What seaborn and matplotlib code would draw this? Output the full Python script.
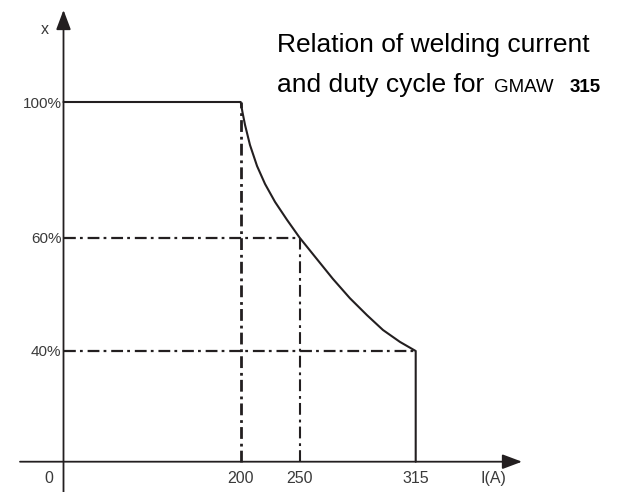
import numpy as np
import matplotlib
matplotlib.use('Agg')
import matplotlib.pyplot as plt
import seaborn as sns

# --- values ---
current_ticks = [0, 200, 250, 315]          # I (A)
duty_ticks = [0, 40, 60, 100]               # duty cycle x (%)
duty_labels = ['40%', '60%', '100%']

# rated curve: plateau, falling curve, drop at 315 A
curve_current = [0, 200, 201.5, 203.7, 207.9, 213.9, 220.7, 229.2, 239.4, 250,
                 258.7, 268.7, 278.2, 287.8, 296.7, 306.2, 315, 315]
curve_duty = [100, 100, 97.0, 93.2, 87.3, 81.1, 75.8, 70.5, 65.2, 60,
              56.6, 52.7, 49.3, 46.3, 43.7, 41.6, 40, 0]

# dash-dot guide lines
guide_v_current = [200, 250]
guide_v_top = [100, 60]
guide_h_duty = [60, 40]
guide_h_end = [250, 315]

# the drawing is not to scale: each axis is piecewise linear between the ticks
x_pix = [63.5, 240.7, 299.5, 415.7]
y_pix = [30.3, 141.0, 254.5, 390.0]

ink = '#231f20'
label_col = '#3a3a3a'


def piecewise(src, dst):
    src = np.asarray(src, float)
    dst = np.asarray(dst, float)

    def conv(v, a, b):
        v = np.asarray(v, float)
        out = np.interp(v, a, b)
        lo = (b[1] - b[0]) / (a[1] - a[0])
        hi = (b[-1] - b[-2]) / (a[-1] - a[-2])
        out = np.where(v < a[0], b[0] + (v - a[0]) * lo, out)
        out = np.where(v > a[-1], b[-1] + (v - a[-1]) * hi, out)
        return out

    return (lambda v: conv(v, src, dst)), (lambda v: conv(v, dst, src))


sns.set_style('white')
plt.rcParams['font.family'] = ['Liberation Sans', 'DejaVu Sans']
plt.rcParams['lines.scale_dashes'] = False

fig = plt.figure(figsize=(6.18, 4.92), dpi=100)
ax = fig.add_axes([0, 0, 1, 1])
ax.patch.set_alpha(0)

fx, ix = piecewise(current_ticks, x_pix)
fy, iy = piecewise(duty_ticks, y_pix)
ax.set_xscale('function', functions=(fx, ix))
ax.set_yscale('function', functions=(fy, iy))

# main curve
sns.lineplot(x=curve_current, y=curve_duty, sort=False, estimator=None,
             color=ink, lw=1.5, ax=ax)

# guide lines
dashdot = (0, (8.5, 3, 2, 3.5))
ax.vlines(guide_v_current[0], 0, guide_v_top[0], colors=ink, lw=2.0, linestyles=[dashdot])
ax.vlines(guide_v_current[1], 0, guide_v_top[1], colors=ink, lw=1.5, linestyles=[dashdot])
ax.hlines(guide_h_duty, 0, guide_h_end, colors=ink, lw=1.6, linestyles=[dashdot])

ax.set_xlim(float(ix(0)), float(ix(618)))
ax.set_ylim(float(iy(0)), float(iy(492)))

# tick labels sit on the axes through the origin
ax.spines['left'].set_position(('data', 0))
ax.spines['bottom'].set_position(('data', 0))
for s in ax.spines.values():
    s.set_color('none')
ax.set_xticks(current_ticks[1:])
ax.set_xticklabels([str(c) for c in current_ticks[1:]])
ax.set_yticks(duty_ticks[1:])
ax.set_yticklabels(duty_labels)
ax.minorticks_off()
ax.tick_params(axis='x', length=0, pad=6.5, labelsize=11.5, labelcolor=label_col)
ax.tick_params(axis='y', length=0, pad=1.5, labelsize=11, labelcolor=label_col)
ax.grid(False)

# origin label
ax.annotate('0', xy=(0, 0), xytext=(-10.5, -12), textcoords='offset points',
            ha='center', va='center', fontsize=11.5, color=label_col)

# axes with arrow heads
arrow = dict(arrowstyle='-|>,head_length=1.2,head_width=0.45', lw=1.3,
             color=ink, shrinkA=0, shrinkB=0)
ax.annotate('', xy=(0, 1 - 10 / 492), xytext=(0, 0),
            xycoords=ax.get_xaxis_transform(), textcoords=ax.get_xaxis_transform(),
            arrowprops=arrow)
ax.annotate('', xy=(522 / 618, 0), xytext=(20 / 618, 0),
            xycoords=ax.get_yaxis_transform(), textcoords=ax.get_yaxis_transform(),
            arrowprops=arrow)

# axis names
fig.text(45 / 618, 1 - 29 / 492, 'x', ha='center', va='center', fontsize=11.5, color=label_col)
fig.text(493 / 618, 1 - 479 / 492, 'I(A)', ha='center', va='center', fontsize=11.5, color=label_col)

# caption
fig.text(277 / 618, 1 - 51.7 / 492, 'Relation of welding current',
         ha='left', va='baseline', fontsize=19, color='black')
fig.text(277 / 618, 1 - 91.7 / 492, 'and duty cycle for',
         ha='left', va='baseline', fontsize=19, color='black')
fig.text(494 / 618, 1 - 91.7 / 492, 'GMAW', ha='left', va='baseline', fontsize=13.5,
         color='black')
fig.text(570 / 618, 1 - 91.7 / 492, '315', ha='left', va='baseline', fontsize=13.5,
         fontweight='bold', color='black')

fig.savefig('out.png', dpi=100)
